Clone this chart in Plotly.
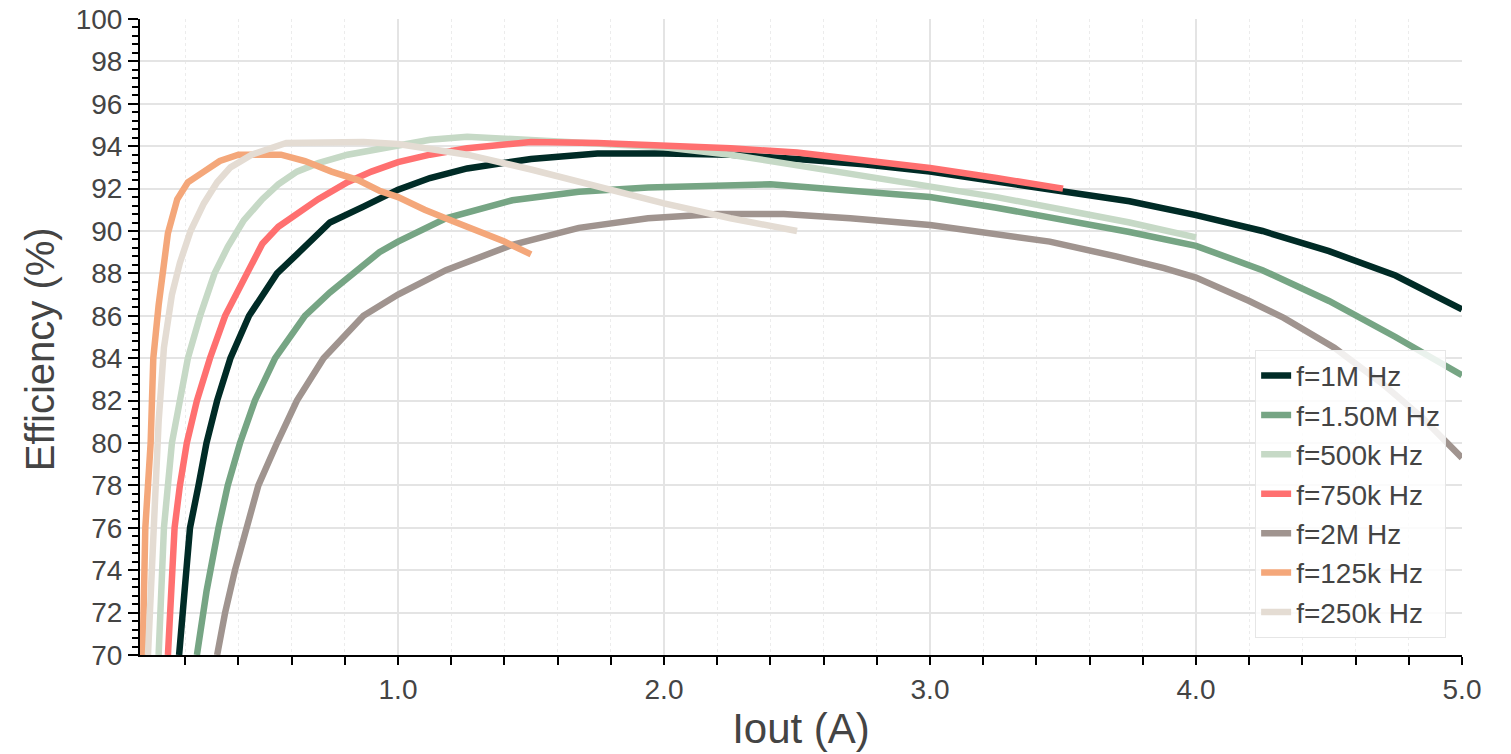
import plotly.graph_objects as go

# ---- data (Iout in A, efficiency in %) ----
x_1M = [0.177, 0.2, 0.218, 0.25, 0.28, 0.32, 0.37, 0.44, 0.49, 0.545, 0.62, 0.744, 0.87, 1.0, 1.12, 1.26, 1.5,
        1.75, 2.0, 2.25, 2.5, 2.75, 3.0, 3.25, 3.5, 3.75, 4.0, 4.25, 4.5, 4.75, 5.0]
y_1M = [70, 73, 76, 78, 80, 82, 84, 86, 86.9, 88, 88.9, 90.4, 91.15, 91.95, 92.5, 92.95, 93.4,
        93.65, 93.65, 93.6, 93.4, 93.15, 92.8, 92.35, 91.9, 91.4, 90.75, 90.0, 89.05, 87.9, 86.3]

x_1M5 = [0.244, 0.28, 0.325, 0.36, 0.406, 0.462, 0.538, 0.65, 0.744, 0.83, 0.93, 1.0, 1.18, 1.43, 1.68, 1.94,
         2.2, 2.4, 2.6, 2.8, 3.0, 3.25, 3.5, 3.75, 4.0, 4.25, 4.5, 4.75, 5.0]
y_1M5 = [70, 73, 76, 78, 80, 82, 84, 86, 87.1, 88, 89, 89.5, 90.6, 91.45, 91.85, 92.05,
         92.15, 92.2, 92.0, 91.8, 91.6, 91.1, 90.55, 89.95, 89.3, 88.15, 86.7, 85.0, 83.2]

x_500k = [0.1, 0.12, 0.15, 0.18, 0.21, 0.256, 0.31, 0.36, 0.42, 0.49, 0.55, 0.62, 0.7, 0.81, 1.0, 1.12, 1.26,
          1.5, 1.75, 2.0, 2.25, 2.5, 2.75, 3.0, 3.25, 3.5, 3.75, 4.0]
y_500k = [70, 76, 80, 82, 84, 86, 88, 89.25, 90.5, 91.5, 92.2, 92.8, 93.2, 93.6, 94.05, 94.3, 94.45,
          94.3, 94.15, 93.95, 93.6, 93.1, 92.6, 92.15, 91.6, 91.0, 90.4, 89.7]

x_750k = [0.135, 0.16, 0.18, 0.206, 0.244, 0.293, 0.35, 0.43, 0.49, 0.55, 0.62, 0.7, 0.81, 0.9, 1.0, 1.12,
          1.26, 1.5, 1.75, 2.0, 2.25, 2.5, 2.75, 3.0, 3.25, 3.5]
y_750k = [70, 76, 78, 80, 82, 84, 86, 88, 89.4, 90.2, 90.85, 91.5, 92.3, 92.8, 93.25, 93.6,
          93.9, 94.2, 94.15, 94.05, 93.9, 93.7, 93.35, 92.97, 92.5, 92.0]

x_2M = [0.32, 0.35, 0.387, 0.43, 0.475, 0.545, 0.62, 0.72, 0.87, 1.0, 1.18, 1.43, 1.68, 1.94, 2.2, 2.45,
        2.7, 3.0, 3.2, 3.45, 3.7, 3.88, 4.0, 4.2, 4.33, 4.52, 4.7, 4.85, 5.0]
y_2M = [70, 72, 74, 76, 78, 80, 82, 84, 86, 87, 88.15, 89.35, 90.15, 90.6, 90.8, 90.8,
        90.6, 90.28, 89.9, 89.5, 88.8, 88.25, 87.8, 86.7, 85.9, 84.5, 82.8, 81.2, 79.3]

x_125k = [0.04, 0.05, 0.07, 0.08, 0.1, 0.12, 0.135, 0.17, 0.21, 0.27, 0.33, 0.4, 0.5, 0.56, 0.65, 0.75,
          0.85, 0.93, 1.0, 1.1, 1.2, 1.3, 1.4, 1.5]
y_125k = [70, 76, 80, 84, 86.5, 88.5, 89.9, 91.5, 92.3, 92.8, 93.3, 93.6, 93.6, 93.6, 93.3, 92.8,
          92.4, 91.9, 91.6, 91.0, 90.5, 90.0, 89.5, 88.9]

x_250k = [0.06, 0.08, 0.1, 0.12, 0.15, 0.18, 0.22, 0.27, 0.32, 0.37, 0.45, 0.58, 0.7, 0.87, 1.0, 1.12,
          1.26, 1.5, 1.75, 2.0, 2.25, 2.5]
y_250k = [70, 76, 81, 84.5, 87, 88.5, 90, 91.3, 92.3, 93, 93.6, 94.15, 94.2, 94.2, 94.1, 93.85,
          93.6, 92.9, 92.1, 91.3, 90.6, 90.0]

series_names = ["f=1M Hz", "f=1.50M Hz", "f=500k Hz", "f=750k Hz", "f=2M Hz", "f=125k Hz", "f=250k Hz"]
series_x = [x_1M, x_1M5, x_500k, x_750k, x_2M, x_125k, x_250k]
series_y = [y_1M, y_1M5, y_500k, y_750k, y_2M, y_125k, y_250k]
series_colors = ["#002b26", "#76a584", "#c6d9c6", "#ff7070", "#a0948f", "#f4a77a", "#e4dcd3"]

FONT = "Liberation Sans, Arial, sans-serif"
TXT = "#444444"

fig = go.Figure()
for name, xs, ys, c in zip(series_names, series_x, series_y, series_colors):
    fig.add_trace(go.Scatter(x=xs, y=ys, mode="lines", name=name,
                             line=dict(color=c, width=6.5)))

# page body adds an 8px offset; figure sized to fit the window
fig.update_layout(
    width=1503, height=746,
    margin=dict(l=132, r=49, t=11, b=99, autoexpand=False),
    paper_bgcolor="white", plot_bgcolor="white",
    font=dict(family=FONT, color=TXT),
    showlegend=True,
    legend=dict(x=0.988, y=0.027, xanchor="right", yanchor="bottom",
                bgcolor="rgba(255,255,255,0.85)", bordercolor="#e6e6e6", borderwidth=1,
                font=dict(family=FONT, size=28, color=TXT),
                tracegroupgap=0, itemwidth=30),
    annotations=[dict(text="Efficiency (%)", textangle=-90, xref="paper", yref="paper",
                      x=-0.0756, y=0.481, xanchor="center", yanchor="middle", showarrow=False,
                      font=dict(family=FONT, size=40, color=TXT))],
)

fig.update_xaxes(
    range=[0.03, 5.0], dtick=1, tick0=0, tickformat=".1f", automargin=False,
    showline=True, linecolor="black", linewidth=2,
    ticks="outside", ticklen=8, tickwidth=1.5, tickcolor="black",
    showgrid=True, gridcolor="#e4e4e4", gridwidth=2,
    zeroline=False,
    tickfont=dict(family=FONT, size=28, color=TXT),
    title=dict(text="Iout (A)", font=dict(family=FONT, size=42, color=TXT), standoff=10),
    minor=dict(dtick=0.2, tick0=0, ticks="outside", ticklen=8, tickwidth=1.5, tickcolor="black",
               showgrid=True, gridcolor="#ececec", gridwidth=1, griddash="dot"),
)

fig.update_yaxes(
    range=[70, 100], dtick=2, tick0=70, automargin=False, ticklabeloverflow="allow",
    showline=True, linecolor="black", linewidth=2,
    ticks="outside", ticklen=10, tickwidth=1.5, tickcolor="black",
    showgrid=True, gridcolor="#e4e4e4", gridwidth=2,
    zeroline=False,
    tickfont=dict(family=FONT, size=28, color=TXT),
    minor=dict(dtick=0.4, tick0=70, ticks="outside", ticklen=6, tickwidth=1.5, tickcolor="black",
               showgrid=False),
)

fig.write_html("out.html")
